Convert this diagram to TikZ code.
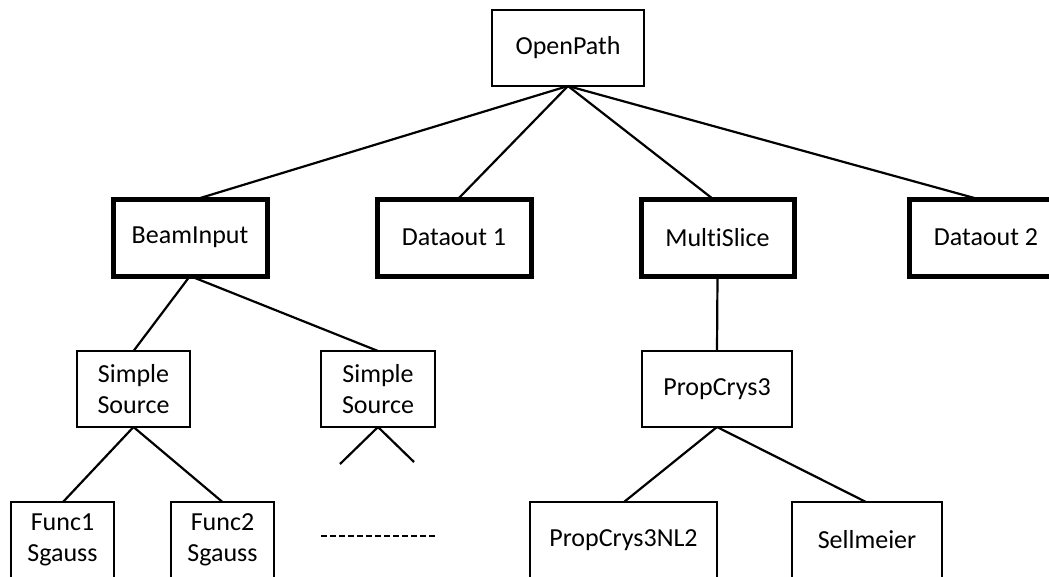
\documentclass[tikz,border=0pt]{standalone}
\usepackage{fontspec}
\setmainfont[Ligatures={NoCommon}]{Carlito}
\begin{document}
\begin{tikzpicture}[x=1pt,y=-1pt,
  box/.style={draw=black,line width=2.2pt,fill=white,inner sep=0pt,outer sep=0pt,
    minimum height=76pt,align=center,font=\fontsize{26}{31}\selectfont},
  thickbox/.style={box,line width=5pt,minimum height=77pt},
  link/.style={line width=2.2pt}]
\clip (0,0) rectangle (1049,576);
\fill[white] (0,0) rectangle (1049,576);
% nodes
\node[box,minimum width=152pt] (open) at (568,48) {OpenPath};
\node[thickbox,minimum width=154pt] (beam) at (190,237.5) {BeamInput};
\node[thickbox,minimum width=154pt] (d1) at (454,237.5) {Dataout 1};
\node[thickbox,minimum width=153pt] (multi) at (717.5,237.5) {Mult\kern0pt{}iSlice};
\node[thickbox,minimum width=154pt] (d2) at (986,237.5) {Dataout 2};
\node[box,minimum width=113pt] (ss1) at (133.5,389) {Simple\\Source};
\node[box,minimum width=114pt] (ss2) at (378,389) {Simple\\Source};
\node[box,minimum width=150pt] (pc3) at (717,389) {PropCrys3};
\node[box,minimum width=103pt] (f1) at (62.5,540) {Func1\\Sgauss};
\node[box,minimum width=103pt] (f2) at (222.5,540) {Func2\\Sgauss};
\node[box,minimum width=187pt] (nl2) at (623.5,540) {PropCrys3NL2};
\node[box,minimum width=150pt] (sell) at (867,540) {Sellmeier};
\coordinate (stubl) at (340,464);
\coordinate (stubr) at (414,462);
\coordinate (dashl) at (321,536);
\coordinate (dashr) at (435,536);
% connectors
\draw[link] (open.south) -- ([xshift=7pt]beam.north);
\draw[link] (open.south) -- ([xshift=4pt]d1.north);
\draw[link] (open.south) -- ([xshift=-4.5pt]multi.north);
\draw[link] (open.south) -- ([xshift=-8pt]d2.north);
\draw[link] (beam.south) -- (ss1.north);
\draw[link] (beam.south) -- (ss2.north);
\draw[link] (multi.south) -- (pc3.north);
\draw[link] (ss1.south) -- ([xshift=0.5pt]f1.north);
\draw[link] (ss1.south) -- (f2.north);
\draw[link] (ss2.south) -- (stubl);
\draw[link] (ss2.south) -- (stubr);
\draw[link] (pc3.south) -- ([xshift=0.5pt]nl2.north);
\draw[link] (pc3.south) -- ([xshift=-1pt]sell.north);
\draw[line width=2pt,dash pattern=on 6pt off 3pt] (dashl) -- (dashr);
\end{tikzpicture}
\end{document}
